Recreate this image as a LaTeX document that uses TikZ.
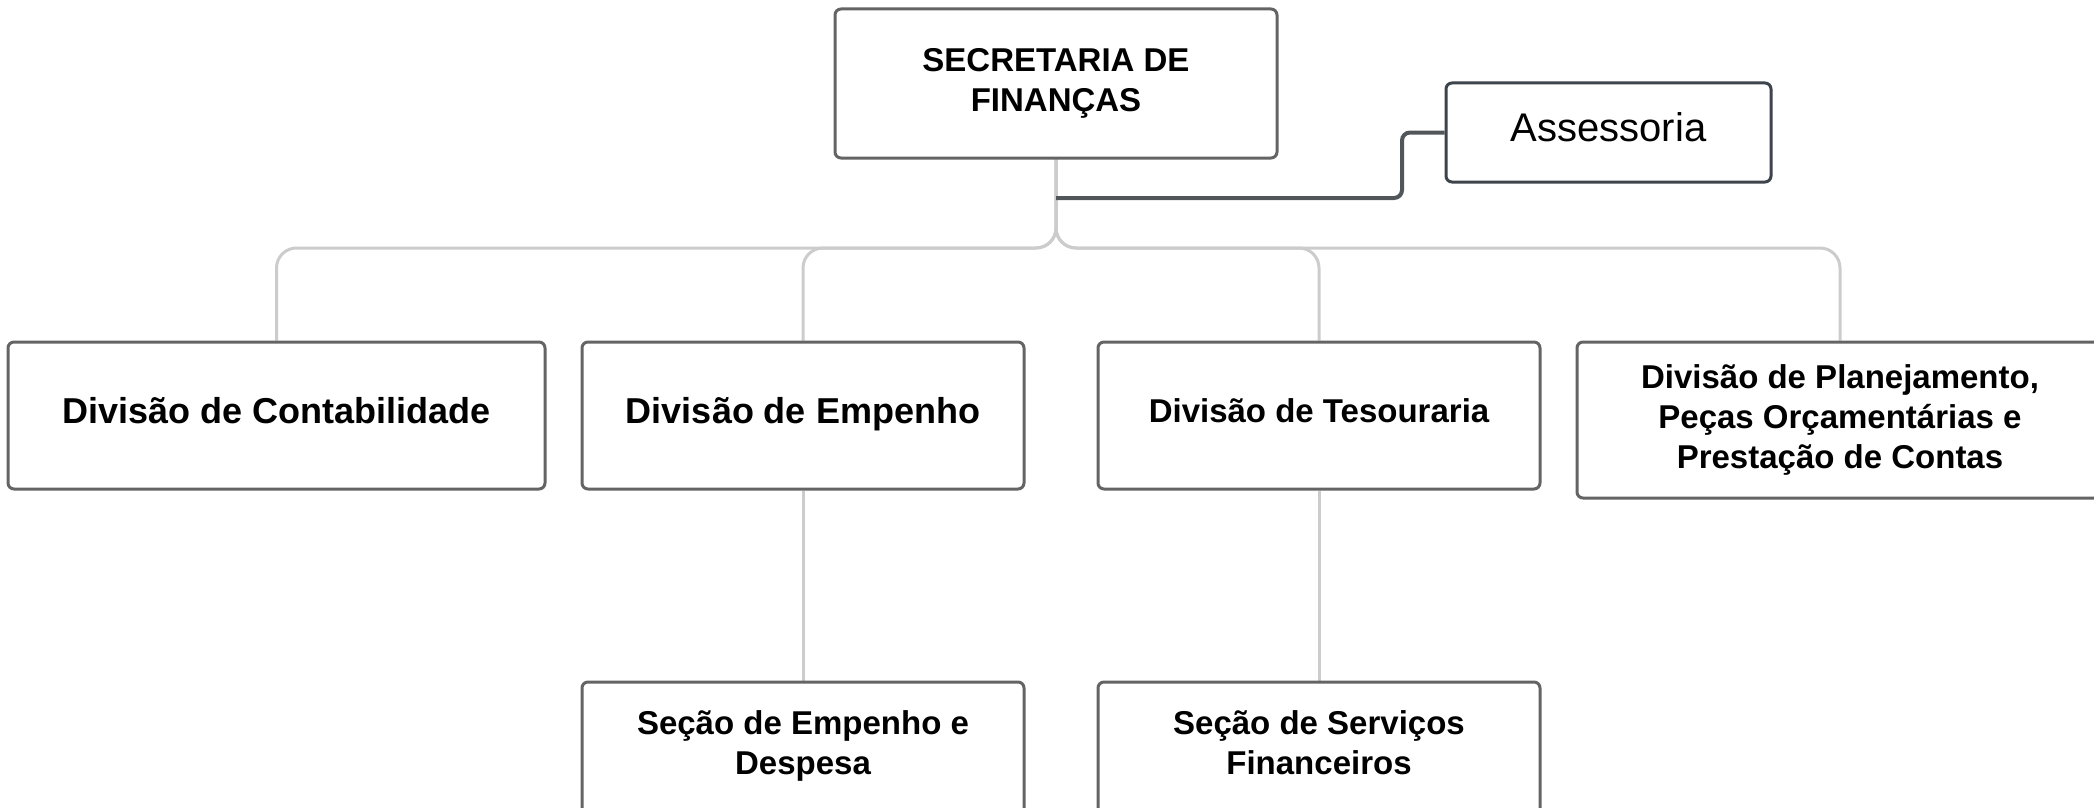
\documentclass[tikz,border=0pt]{standalone}
\usepackage{fontspec}
\setmainfont{Liberation Sans}
\usetikzlibrary{backgrounds}
\definecolor{boxgray}{HTML}{646464}
\definecolor{assgray}{HTML}{3E444B}
\definecolor{linkgray}{HTML}{CCCCCC}
\definecolor{asslinkgray}{HTML}{51565B}
\newcommand{\baseat}[2]{\raisebox{#1}[0pt][0pt]{#2}}
\begin{document}
\begin{tikzpicture}[x=1pt,y=-1pt,
  box/.style={draw=boxgray, line width=3pt, rounded corners=6pt, fill=white, align=center,
    font=\bfseries\fontsize{33}{40}\selectfont, inner sep=0pt},
  bigtxt/.style={font=\bfseries\fontsize{36}{43}\selectfont},
  txt/.style={align=center, font=\bfseries\fontsize{33}{40}\selectfont, inner sep=0pt},
  link/.style={draw=linkgray, line width=3pt, rounded corners=20pt},
  sublink/.style={draw=linkgray, line width=3pt},
  asslink/.style={draw=asslinkgray, line width=4pt, rounded corners=8pt}]
\useasboundingbox (0,0) rectangle (2094,808);
\clip (0,0) rectangle (2094,808);

\node[box, minimum width=442pt, minimum height=149pt] (sec) at (1056,83.5) {SECRETARIA DE\\FINANÇAS};
\node[box, draw=assgray, minimum width=325pt, minimum height=99pt, font=\fontsize{40}{48}\selectfont] (ass) at (1608.5,132.5) {\baseat{-8.5pt}{Assessoria}};

\node[box, bigtxt, minimum width=537pt, minimum height=147pt] (c1) at (276.5,415.5) {\baseat{-7.5pt}{Divisão de Contabilidade}};
\node[box, bigtxt, minimum width=442pt, minimum height=147pt] (c2) at (803,415.5) {\baseat{-7.5pt}{Divisão de Empenho}};
\node[box, minimum width=442pt, minimum height=147pt] (c3) at (1319,415.5) {\baseat{-6.5pt}{Divisão de Tesouraria}};
\node[box, minimum width=526pt, minimum height=156pt] (c4) at (1840,420) {Divisão de Planejamento,\\Peças Orçamentárias e\\Prestação de Contas};

\node[box, minimum width=442pt, minimum height=148pt] (s1) at (803,756) {};
\node[txt] (s1t) at (803,746) {Seção de Empenho e\\Despesa};
\node[box, minimum width=442pt, minimum height=148pt] (s2) at (1319,756) {};
\node[txt] (s2t) at (1319,743) {Seção de Serviços\\Financeiros};

\coordinate (bus) at (1056,248);
\coordinate (ak) at (1402,198);

\begin{scope}[on background layer]
  \foreach \c in {c1,c2,c3,c4}
    \draw[link] (sec.south) -- (sec.south |- bus) -| (\c.north);
  \draw[sublink] (c2.south) -- (s1.north);
  \draw[sublink] (c3.south) -- (s2.north);
  \draw[asslink] (sec.south |- ak) -- (ak) |- (ass.west);
\end{scope}
\end{tikzpicture}
\end{document}
